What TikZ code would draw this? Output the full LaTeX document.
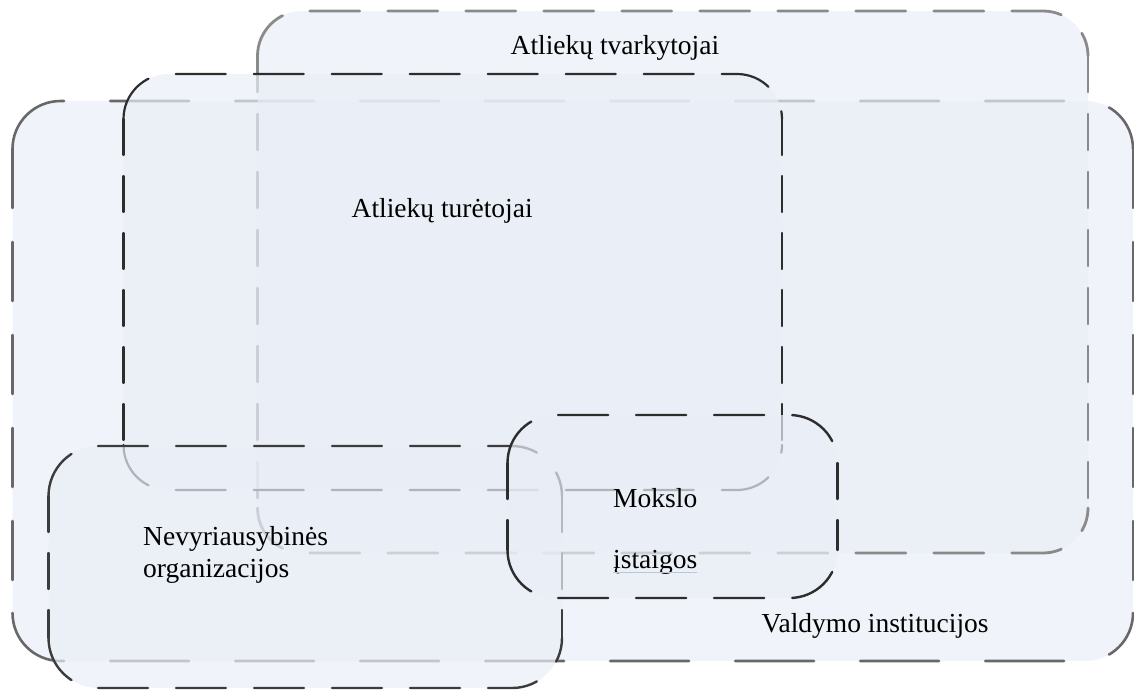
\documentclass[tikz,border=0pt]{standalone}
\usepackage{fontspec}
\setmainfont{Liberation Serif}
\definecolor{boxfill}{RGB}{233,238,246}
\definecolor{valc}{RGB}{104,104,104}
\definecolor{tvac}{RGB}{138,138,138}
\definecolor{turc}{RGB}{45,45,45}
\definecolor{nevc}{RGB}{60,60,60}
\definecolor{mokc}{RGB}{45,45,45}
\definecolor{ulc}{RGB}{190,198,214}
\tikzset{
  areafill/.style={fill=boxfill, fill opacity=0.7},
  valline/.style={draw=valc, line width=2.6pt, line cap=round},
  tvaline/.style={draw=tvac, line width=2.8pt, line cap=round},
  turline/.style={draw=turc, line width=2.2pt, line cap=round},
  nevline/.style={draw=nevc, line width=2.4pt, line cap=round},
  mokline/.style={draw=mokc, line width=2.4pt, line cap=round},
  lbl/.style={inner sep=0pt, anchor=base west, text=black, font=\fontsize{27.5}{33}\selectfont}
}
% #1 line style, #2 x0, #3 y0, #4 x1, #5 y1, #6 radius, #7 horizontal dash, #8 vertical dash
\newcommand\dashedrbox[8]{%
  \fill[areafill, rounded corners=#6pt] (#2,#3) rectangle (#4,#5);
  \draw[#1, dash pattern=#7, rounded corners=#6pt] (#2,#3+#6) -- (#2,#3) -- (#4,#3) -- (#4,#3+#6);
  \draw[#1, dash pattern=#7, rounded corners=#6pt] (#2,#5-#6) -- (#2,#5) -- (#4,#5) -- (#4,#5-#6);
  \draw[#1, dash pattern=#8] (#2,#3+#6) -- (#2,#5-#6);
  \draw[#1, dash pattern=#8] (#4,#3+#6) -- (#4,#5-#6);
}
\begin{document}
\begin{tikzpicture}[x=1pt,y=-1pt]
\useasboundingbox (0,0) rectangle (1134,691);
% Valdymo institucijos
\dashedrbox{valline}{12.5}{101}{1133}{661}{48}{on 79pt off 46pt}{on 59pt off 34pt}
% Atliek\~u tvarkytojai
\dashedrbox{tvaline}{257.5}{11}{1088}{553}{45}{on 50pt off 28pt}{on 36pt off 22pt}
% Atliek\~u tur\.etojai
\dashedrbox{turline}{123.5}{74}{782}{490}{45}{on 50pt off 28pt}{on 36pt off 21pt}
% Nevyriausybin\.es organizacijos
\dashedrbox{nevline}{48.5}{446}{562}{688}{50}{on 50pt off 28pt}{on 36pt off 21pt}
% Mokslo \k{i}staigos
\dashedrbox{mokline}{507.5}{415}{837.5}{598}{48}{on 50pt off 28pt}{on 36pt off 21pt}

\node[lbl] (tva) at (510.5,54) {Atliekų tvarkytojai};
\node[lbl] (tur) at (351.5,217) {Atliekų turėtojai};
\node[lbl] (mok1) at (613,507) {Mokslo};
\node[lbl] (mok2) at (613,568) {įstaigos};
\node[lbl] (nev1) at (143,545) {Nevyriausybinės};
\node[lbl] (nev2) at (143,577) {organizacijos};
\node[lbl] (val) at (761.5,632) {Valdymo institucijos};
\draw[ulc, line width=1pt] ([yshift=-4.5pt]mok2.base west) -- ([yshift=-4.5pt]mok2.base east);
\end{tikzpicture}
\end{document}
